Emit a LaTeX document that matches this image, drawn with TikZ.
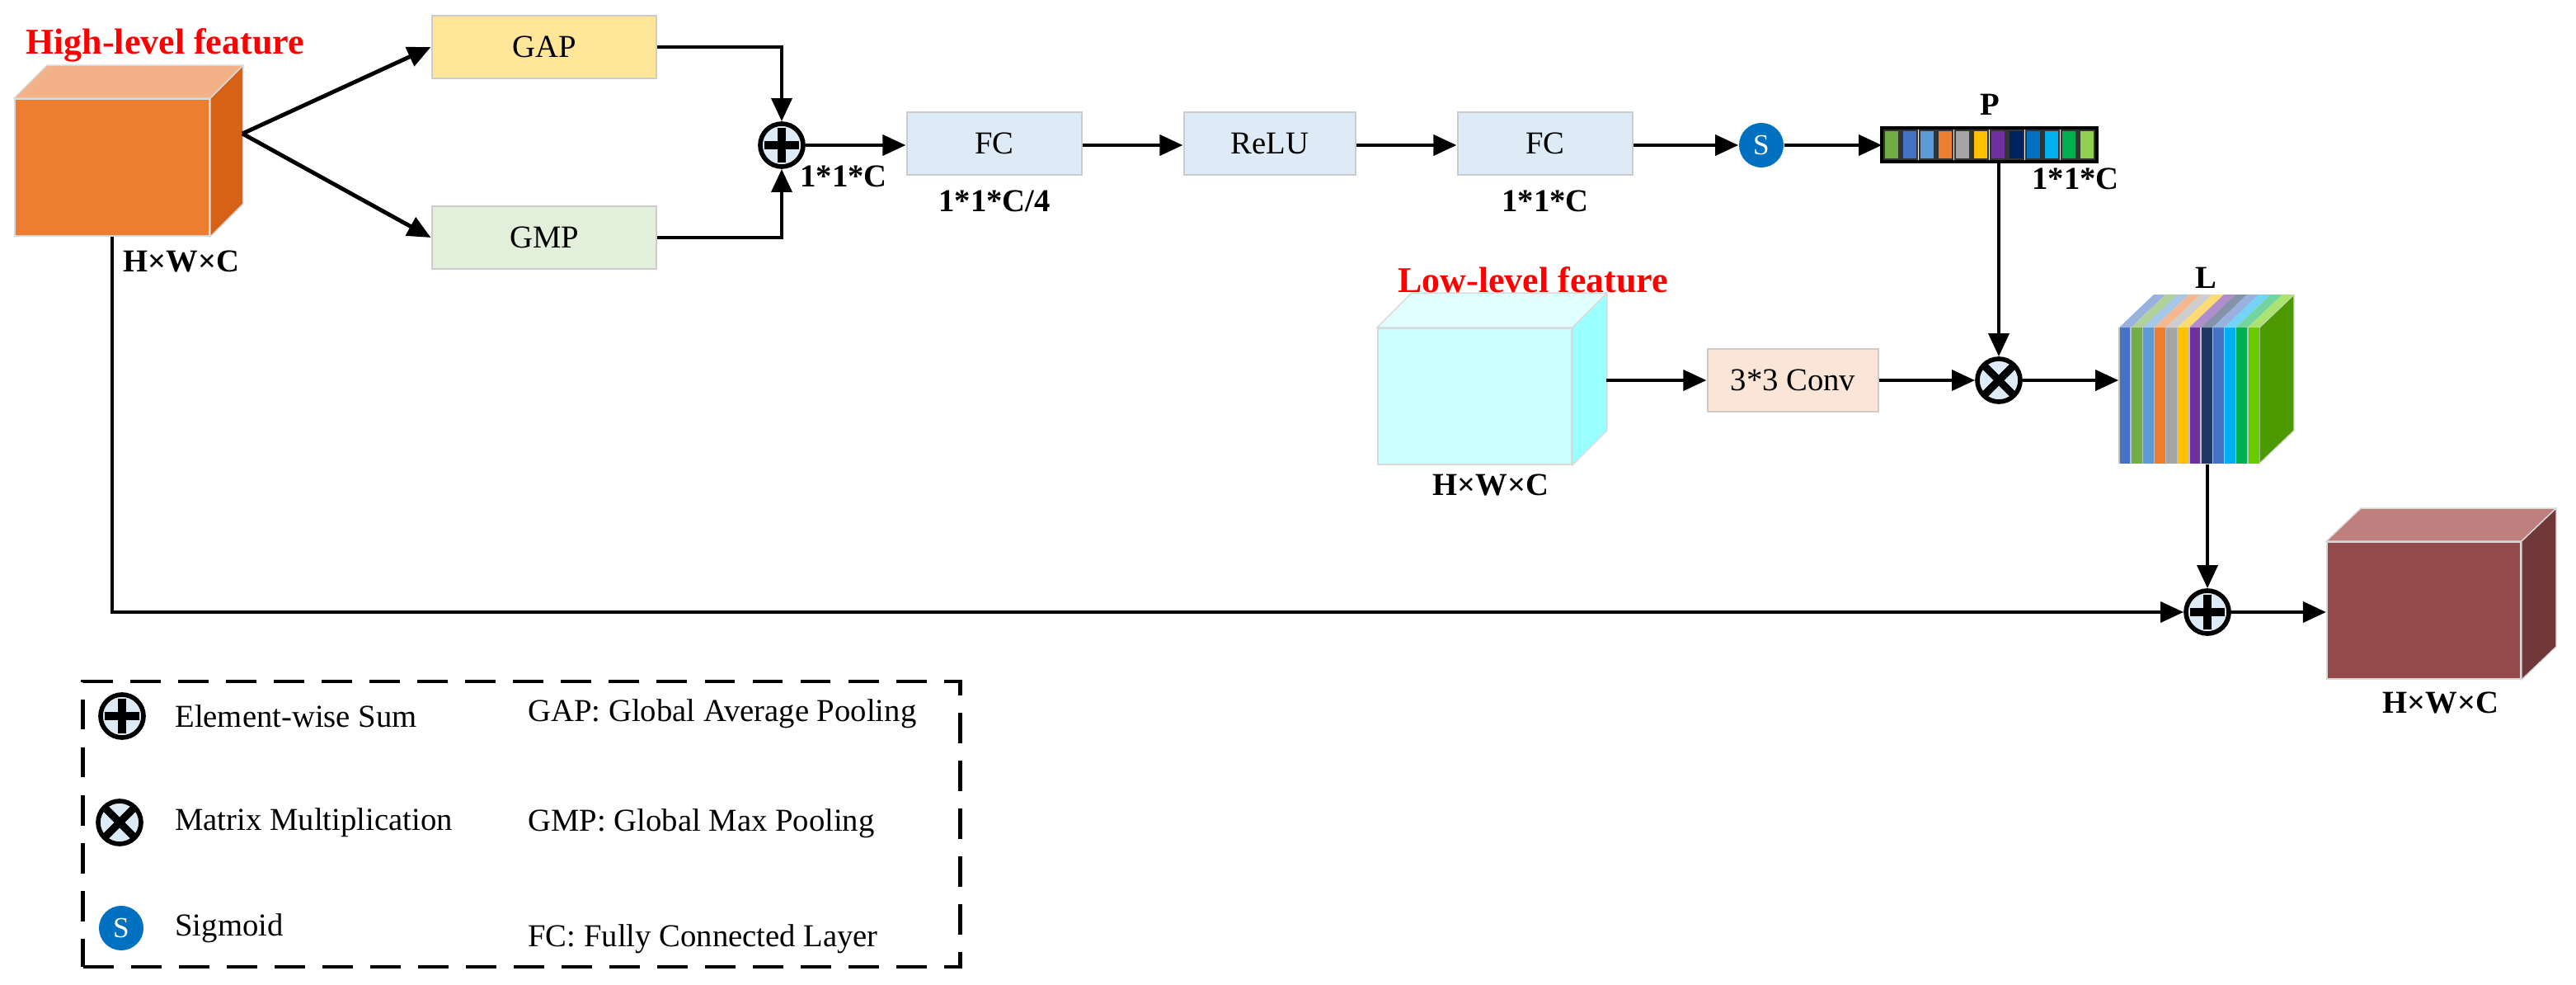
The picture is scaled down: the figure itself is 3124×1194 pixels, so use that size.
\documentclass[tikz,border=0pt]{standalone}
\usepackage{fontspec}
\setmainfont{Liberation Serif}
\usetikzlibrary{arrows.meta,calc}
\definecolor{gapc}{HTML}{FFE699}
\definecolor{gmpc}{HTML}{E2EFDA}
\definecolor{fcc}{HTML}{DEEBF7}
\definecolor{convc}{HTML}{FBE5D6}
\definecolor{opc}{HTML}{DDEBF7}
\definecolor{sigc}{HTML}{0070C0}
\definecolor{hif}{RGB}{237,125,49}
\definecolor{hit}{RGB}{243,177,136}
\definecolor{his}{RGB}{214,98,22}
\definecolor{lof}{RGB}{204,255,255}
\definecolor{lot}{RGB}{224,255,255}
\definecolor{los}{RGB}{153,255,255}
\definecolor{outf}{RGB}{149,75,75}
\definecolor{outt}{RGB}{191,127,127}
\definecolor{outs}{RGB}{112,56,56}
\definecolor{lside}{RGB}{77,153,0}
\tikzset{
  arr/.style={line width=1.4pt,-{Triangle[length=8pt,width=7pt]}},
  box/.style={draw=black!20,line width=0.8pt,inner sep=0pt,font=\fontsize{11}{12}\selectfont},
  dim/.style={font=\bfseries\fontsize{11}{12}\selectfont},
  redlab/.style={text=red,font=\bfseries\fontsize{12.5}{14}\selectfont,anchor=west},
  legt/.style={font=\fontsize{11}{12}\selectfont,anchor=west},
  op/.style={circle,draw,line width=1.6pt,fill=opc,minimum size=0.52cm,inner sep=0pt},
  sumop/.style={op,path picture={\draw[line width=2.6pt]
     ($(path picture bounding box.north)+(0,5)$) -- ($(path picture bounding box.south)+(0,-5)$)
     ($(path picture bounding box.west)+(5,0)$) -- ($(path picture bounding box.east)+(-5,0)$);}},
  mulop/.style={op,path picture={\draw[line width=2.6pt]
     (path picture bounding box.north west) -- (path picture bounding box.south east)
     (path picture bounding box.north east) -- (path picture bounding box.south west);}},
  sig/.style={circle,fill=sigc,minimum size=0.54cm,inner sep=0pt,text=white,font=\fontsize{10}{10}\selectfont},
  face/.style={inner sep=0pt,draw=black!15,line width=0.5pt}
}
\newcommand{\cubedeco}[5]{% name, dx, dy, top, side
  \fill[#4,draw=black!15] (#1.north west) -- ++(#2,#3) -- ($(#1.north east)+(#2,#3)$) -- (#1.north east) -- cycle;
  \fill[#5,draw=black!15] (#1.north east) -- ++(#2,#3) -- ($(#1.south east)+(#2,#3)$) -- (#1.south east) -- cycle;}
\begin{document}
\begin{tikzpicture}[x=0.01cm,y=-0.01cm]
\useasboundingbox (0,0) rectangle (3124,1194);
% high-level cube
\node[face,fill=hif,minimum width=2.36cm,minimum height=1.66cm] (hi) at (136,203) {};
\cubedeco{hi}{40}{-40}{hit}{his}
\node[redlab] (hil) at (19,55) {High-level feature};
\node[dim] (hid) at (220,317) {H×W×C};
\coordinate (hiR) at (294,162);
% GAP GMP
\node[box,fill=gapc,minimum width=2.72cm,minimum height=0.76cm] (gap) at (660,57) {GAP};
\node[box,fill=gmpc,minimum width=2.72cm,minimum height=0.76cm] (gmp) at (660,288) {GMP};
\node[sumop] (p1) at (948,176) {};
\node[dim,anchor=north west] (p1d) at (958,188) {1*1*C};
\node[box,fill=fcc,minimum width=2.12cm,minimum height=0.76cm] (fc1) at (1206,174) {FC};
\node[dim] (fc1d) at (1206,244) {1*1*C/4};
\node[box,fill=fcc,minimum width=2.08cm,minimum height=0.76cm] (relu) at (1540,174) {ReLU};
\node[box,fill=fcc,minimum width=2.12cm,minimum height=0.76cm] (fc2) at (1874,174) {FC};
\node[dim] (fc2d) at (1874,244) {1*1*C};
\node[sig] (s) at (2136,176) {S};
% P bar
\node[inner sep=0pt,minimum width=2.59cm,minimum height=0.39cm] (pbar) at (2412.5,175.5) {};
\foreach \c [count=\i from 0] in {70AD47,4472C4,5B9BD5,ED7D31,A5A5A5,FFC000,7030A0,002060,0070C0,00B0F0,00B050,92D050}{
  \definecolor{tmp}{HTML}{\c}
  \fill[tmp,draw=black!80,line width=0.8pt] ({2285+\i*21.5},158) rectangle ({2285+(\i+1)*21.5-3},193);}
\draw[line width=1.2pt] (pbar.north west) rectangle (pbar.south east);
\node[dim] (pl) at (2413,127) {P};
\node[dim] (pd) at (2517,217) {1*1*C};
% low-level cube
\node[face,fill=lof,minimum width=2.35cm,minimum height=1.65cm] (lo) at (1788.5,480.5) {};
\cubedeco{lo}{42}{-42}{lot}{los}
\node[redlab] (lol) at (1683,339) {Low-level feature};
\node[dim] (lod) at (1808,588) {H×W×C};
\coordinate (loR) at (1948,461);
\node[box,fill=convc,minimum width=2.07cm,minimum height=0.76cm] (conv) at (2174.5,461) {3*3 Conv};
\node[mulop] (mul) at (2424,461) {};
% L cube
\node[inner sep=0pt,minimum width=1.7cm,minimum height=1.65cm] (lf) at (2655,479.5) {};
\fill[lside,draw=black!15] (2740,397) -- (2782,357) -- (2782,522) -- (2740,562) -- cycle;
\foreach \c [count=\i from 0] in {4472C4,70AD47,5B9BD5,ED7D31,A5A5A5,FFC000,7030A0,203864,4472C4,00B0F0,00B050,66CC00}{
  \definecolor{tmp}{HTML}{\c}
  \fill[tmp] ({2570+\i*170/12},397) rectangle ({2570+(\i+1)*170/12},562);
  \fill[tmp!55!white] ({2570+\i*170/12},397) -- ({2612+\i*170/12},357) -- ({2612+(\i+1)*170/12},357) -- ({2570+(\i+1)*170/12},397) -- cycle;
  \draw[black!25,line width=0.4pt] ({2570+\i*170/12},397) -- ({2570+\i*170/12},562);}
\node[dim] (ll) at (2675,337) {L};
% output
\node[sumop] (p2) at (2677,742) {};
\node[face,fill=outf,minimum width=2.35cm,minimum height=1.66cm] (out) at (2939.5,740) {};
\cubedeco{out}{42}{-40}{outt}{outs}
\node[dim] (outd) at (2960,852) {H×W×C};
% connectors
\draw[arr] (hiR) -- (gap.west);
\draw[arr] (hiR) -- (gmp.west);
\draw[arr] (gap.east) -| (p1.north);
\draw[arr] (gmp.east) -| (p1.south);
\draw[arr] (p1) -- (p1 -| fc1.west);
\draw[arr] (fc1.east |- p1) -- (relu.west |- p1);
\draw[arr] (relu.east |- p1) -- (fc2.west |- p1);
\draw[arr] (fc2.east |- p1) -- (s.west);
\draw[arr] (s.east) -- (pbar.west |- s);
\draw[arr] (mul |- pbar.south) -- (mul.north);
\draw[arr] (loR) -- (conv.west);
\draw[arr] (conv.east) -- (mul.west);
\draw[arr] (mul.east) -- (mul -| lf.west);
\draw[arr] (p2 |- lf.south) -- (p2.north);
\draw[arr] (hi.south) |- (p2.west);
\draw[arr] (p2.east) -- (p2 -| out.west);
% legend
\node[draw,line width=1.3pt,dash pattern=on 10.5pt off 6pt,minimum width=10.63cm,minimum height=3.46cm] (leg) at (632.5,999) {};
\node[sumop] (lg1) at (148,868) {};
\node[legt] (lt1) at (200,868) {Element-wise Sum};
\node[mulop] (lg2) at (145,997) {};
\node[legt] (lt2) at (200,997) {Matrix Multiplication};
\node[sig] (lg3) at (147,1125) {S};
\node[legt] (lt3) at (200,1125) {Sigmoid};
\node[legt] (lt4) at (628,865) {GAP: Global Average Pooling};
\node[legt] (lt5) at (628,998) {GMP: Global Max Pooling};
\node[legt] (lt6) at (628,1138) {FC: Fully Connected Layer};
\end{tikzpicture}
\end{document}
